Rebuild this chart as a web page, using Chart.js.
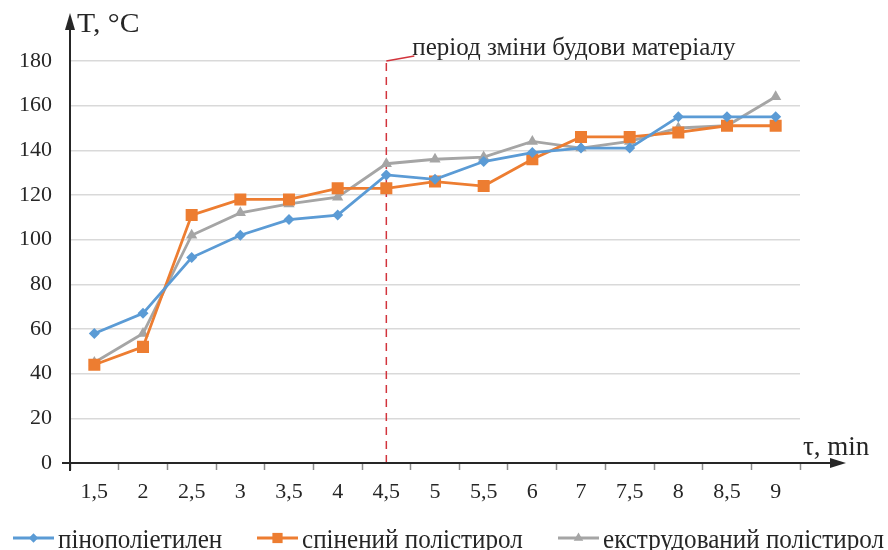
<!DOCTYPE html>
<html>
<head>
<meta charset="utf-8">
<script src="https://cdn.jsdelivr.net/npm/chart.js@4"></script>
<style>
  html, body { margin: 0; padding: 0; background: #fff; }
  #wrap { width: 888px; height: 550px; }
</style>
</head>
<body>
<div id="wrap"><canvas id="chart" width="888" height="550"></canvas></div>
<script>
// data
const categories = ['1,5', '2', '2,5', '3', '3,5', '4', '4,5', '5', '5,5', '6', '7', '7,5', '8', '8,5', '9'];
const penopolyethylene = [58, 67, 92, 102, 109, 111, 129, 127, 135, 139, 141, 141, 155, 155, 155];
const foamedPolystyrene = [44, 52, 111, 118, 118, 123, 123, 126, 124, 136, 146, 146, 148, 151, 151];
const extrudedPolystyrene = [45, 58, 102, 112, 116, 119, 134, 136, 137, 144, 141, 144, 150, 151, 164];
const seriesNames = ['пінополіетилен', 'спінений полістирол', 'екструдований полістирол'];
const yTicksMax = 180;
const markerCategory = '4,5';
const markerText = 'період зміни будови матеріалу';

const FONT = '"Liberation Serif", "Times New Roman", serif';
const INK = '#262626';
const colors = ['#5b9bd5', '#ed7d31', '#a5a5a5'];
const styles = [
    { pointStyle: 'rectRot', radius: 5.5 },
    { pointStyle: 'rect', radius: 8.5 },
    { pointStyle: 'triangle', radius: 6.5 }
];

const datasets = [penopolyethylene, foamedPolystyrene, extrudedPolystyrene].map((data, i) => ({
    label: seriesNames[i],
    data: data,
    borderColor: colors[i],
    backgroundColor: colors[i],
    borderWidth: 2.8,
    pointStyle: styles[i].pointStyle,
    pointRadius: styles[i].radius,
    pointBorderWidth: 0,
    tension: 0
}));

// text squeezed or stretched sideways like the reference
function drawText(ctx, text, x, y, sx) {
    ctx.save();
    ctx.translate(x, y);
    ctx.scale(sx, 1);
    ctx.fillText(text, 0, 0);
    ctx.restore();
}

// dashed "period" line, axes with arrows, axis titles and legend
const decor = {
    id: 'decor',
    beforeDatasetsDraw(chart) {
        const ctx = chart.ctx;
        const x = chart.scales.x.getPixelForValue(categories.indexOf(markerCategory));
        const y0 = chart.scales.y.getPixelForValue(0);
        const yTop = chart.scales.y.getPixelForValue(yTicksMax);
        ctx.save();
        ctx.strokeStyle = '#d2343c';
        ctx.lineWidth = 1.5;
        ctx.setLineDash([8, 6]);
        ctx.beginPath();
        ctx.moveTo(x, y0);
        ctx.lineTo(x, yTop);
        ctx.stroke();
        ctx.setLineDash([]);
        ctx.beginPath();
        ctx.moveTo(x, yTop);
        ctx.lineTo(x + 28, yTop - 5);
        ctx.stroke();
        ctx.fillStyle = INK;
        ctx.font = '25px ' + FONT;
        ctx.textBaseline = 'alphabetic';
        ctx.fillText(markerText, x + 26, yTop - 6);
        ctx.restore();
    },
    afterDraw(chart) {
        const ctx = chart.ctx;
        const area = chart.chartArea;
        ctx.save();
        ctx.strokeStyle = INK;
        ctx.fillStyle = INK;
        ctx.lineWidth = 2;
        // y axis
        ctx.beginPath();
        ctx.moveTo(area.left, area.bottom + 8);
        ctx.lineTo(area.left, 28);
        ctx.stroke();
        ctx.beginPath();
        ctx.moveTo(area.left, 13);
        ctx.lineTo(area.left - 5, 30);
        ctx.lineTo(area.left + 5, 30);
        ctx.closePath();
        ctx.fill();
        // x axis
        ctx.beginPath();
        ctx.moveTo(area.left - 8, area.bottom);
        ctx.lineTo(834, area.bottom);
        ctx.stroke();
        ctx.beginPath();
        ctx.moveTo(846, area.bottom);
        ctx.lineTo(830, area.bottom - 5);
        ctx.lineTo(830, area.bottom + 5);
        ctx.closePath();
        ctx.fill();
        // axis titles
        ctx.textBaseline = 'alphabetic';
        ctx.font = '27px ' + FONT;
        drawText(ctx, 'T, °C', 77, 32, 1.1);
        ctx.font = '27px ' + FONT;
        ctx.fillText('τ, min', 803, 455);
        // legend
        ctx.font = '27px ' + FONT;
        const lineStarts = [13, 257, 558];
        const lineLen = 41, gapText = 4, legendY = 538;
        seriesNames.forEach((name, i) => {
            const lx = lineStarts[i];
            ctx.strokeStyle = colors[i];
            ctx.fillStyle = colors[i];
            ctx.lineWidth = 2.8;
            ctx.beginPath();
            ctx.moveTo(lx, legendY);
            ctx.lineTo(lx + lineLen, legendY);
            ctx.stroke();
            Chart.helpers.drawPoint(ctx, {
                pointStyle: styles[i].pointStyle,
                radius: styles[i].radius * 0.85,
                borderWidth: 0,
                rotation: 0
            }, lx + lineLen / 2, legendY);
            ctx.fillStyle = INK;
            ctx.textBaseline = 'alphabetic';
            drawText(ctx, name, lx + lineLen + gapText, 548, 0.93);
        });
        ctx.restore();
    }
};

new Chart(document.getElementById('chart'), {
    type: 'line',
    data: { labels: categories, datasets: datasets },
    options: {
        responsive: false,
        animation: false,
        layout: { padding: { left: 0, right: 88, top: 61, bottom: 0 } },
        plugins: {
            legend: { display: false },
            tooltip: { enabled: false }
        },
        scales: {
            x: {
                offset: true,
                grid: {
                    offset: true,
                    drawOnChartArea: false,
                    tickLength: 7,
                    tickColor: '#8c8c8c',
                    tickWidth: 1.5
                },
                border: { display: false },
                ticks: {
                    color: INK,
                    font: { family: FONT, size: 22 },
                    padding: 9,
                    maxRotation: 0,
                    autoSkip: false
                },
                afterFit(scale) { scale.height = 87; }
            },
            y: {
                min: 0,
                max: yTicksMax,
                grid: { color: '#d9d9d9', lineWidth: 1.5, drawTicks: false },
                border: { display: false },
                ticks: {
                    stepSize: 20,
                    color: INK,
                    font: { family: FONT, size: 22 },
                    padding: 18
                },
                afterFit(scale) { scale.width = 70; }
            }
        }
    },
    plugins: [decor]
});
</script>
</body>
</html>
